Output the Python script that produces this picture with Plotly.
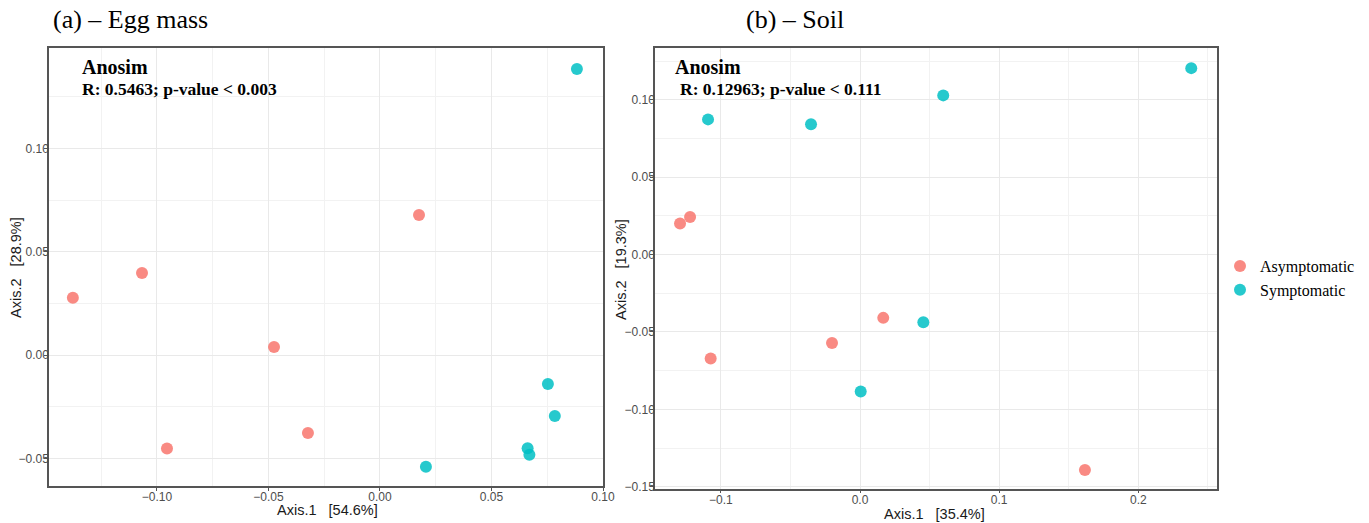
import plotly.graph_objects as go

W, H = 1369, 523

# Panel (a) – Egg mass
a_asym_x = [-0.1377, -0.1067, -0.0955, -0.0475, -0.0323, 0.0175]
a_asym_y = [0.0277, 0.0397, -0.0452, 0.0039, -0.0377, 0.0677]
a_sym_x = [0.0883, 0.0753, 0.0784, 0.0662, 0.0670, 0.0206]
a_sym_y = [0.1384, -0.0140, -0.0295, -0.0451, -0.0482, -0.0540]

# Panel (b) – Soil
b_asym_x = [-0.1293, -0.1221, -0.1073, -0.0201, 0.0167, 0.1616]
b_asym_y = [0.0200, 0.0243, -0.0671, -0.0572, -0.0409, -0.1392]
b_sym_x = [-0.1092, -0.0352, 0.0598, 0.0455, 0.0005, 0.2380]
b_sym_y = [0.0873, 0.0841, 0.1028, -0.0437, -0.0884, 0.1204]

groups = ["Asymptomatic", "Symptomatic"]
colors = ["#F8766D", "#00BFC4"]

titles = ["(a) – Egg mass", "(b) – Soil"]
anosim_stats = ["R: 0.5463; p-value < 0.003", "R: 0.12963; p-value < 0.111"]
x_titles = ["Axis.1\u00a0\u00a0\u00a0[54.6%]", "Axis.1\u00a0\u00a0\u00a0[35.4%]"]
y_titles = ["Axis.2\u00a0\u00a0\u00a0[28.9%]", "Axis.2\u00a0\u00a0\u00a0[19.3%]"]

fig = go.Figure()

def add_pts(x, y, name, color, xa, ya, show):
    fig.add_trace(go.Scatter(
        x=x, y=y, mode="markers", name=name, legendgroup=name, showlegend=show,
        marker=dict(size=12, color=color, opacity=0.85, line=dict(width=0)),
        xaxis=xa, yaxis=ya))

add_pts(a_asym_x, a_asym_y, groups[0], colors[0], "x", "y", True)
add_pts(a_sym_x, a_sym_y, groups[1], colors[1], "x", "y", True)
add_pts(b_asym_x, b_asym_y, groups[0], colors[0], "x2", "y2", False)
add_pts(b_sym_x, b_sym_y, groups[1], colors[1], "x2", "y2", False)

def px(v):
    return v / W

def py(v):
    return 1 - v / H

sans = "Liberation Sans, Arial, sans-serif"
serif = "Liberation Serif, Times New Roman, serif"
tickfont = dict(family=sans, size=12, color="#4d4d4d")
titlefont = dict(family=sans, size=14.5, color="#1a1a1a")

def axis(domain, rng, dtick, fmt, anchor, standoff):
    return dict(
        domain=domain, range=rng, dtick=dtick, tick0=0, tickformat=fmt,
        automargin=False,
        showgrid=True, gridcolor="#e9e9e9", gridwidth=1.2,
        minor=dict(showgrid=True, dtick=dtick / 2, tick0=0, gridcolor="#f2f2f2", gridwidth=1),
        zeroline=False, showline=True, mirror=True, linecolor="#555555", linewidth=1.5,
        ticks="outside", ticklen=3, tickcolor="#555555", tickwidth=1,
        ticklabelstandoff=standoff,
        tickfont=tickfont, anchor=anchor,
    )

layout = dict(
    width=W, height=H, paper_bgcolor="white", plot_bgcolor="white",
    margin=dict(l=0, r=0, t=0, b=0, autoexpand=False),
    showlegend=True,
    xaxis=axis([px(49), px(603)], [-0.1484, 0.1000], 0.05, ".2f", "y", -4),
    yaxis=axis([py(486), py(48)], [-0.0633, 0.1485], 0.05, ".2f", "x", -7),
    xaxis2=axis([px(655), px(1217)], [-0.1473, 0.2565], 0.1, ".1f", "y2", -4),
    yaxis2=axis([py(488.5), py(48)], [-0.1511, 0.1334], 0.05, ".2f", "x2", -7),
    legend=dict(
        x=px(1220), y=py(278), xanchor="left", yanchor="middle",
        font=dict(family=serif, size=16, color="#000000"),
        itemwidth=30, tracegroupgap=0, bgcolor="rgba(0,0,0,0)",
    ),
)
fig.update_layout(**layout)

anns = []
# Panel titles
anns.append(dict(text=titles[0], x=px(51), y=py(20), xref="paper", yref="paper",
                 xanchor="left", yanchor="middle", showarrow=False,
                 font=dict(family=serif, size=26, color="#000")))
anns.append(dict(text=titles[1], x=px(744), y=py(20), xref="paper", yref="paper",
                 xanchor="left", yanchor="middle", showarrow=False,
                 font=dict(family=serif, size=26, color="#000")))
# Anosim blocks
for xl, xr, stat, fs in [(80, 80, anosim_stats[0], 17.5), (673, 678, anosim_stats[1], 17.5)]:
    anns.append(dict(text="<b>Anosim</b>", x=px(xl), y=py(67), xref="paper", yref="paper",
                     xanchor="left", yanchor="middle", showarrow=False,
                     font=dict(family=serif, size=20, color="#000")))
    anns.append(dict(text="<b>" + stat.replace("<", "&lt;") + "</b>", x=px(xr), y=py(89),
                     xref="paper", yref="paper",
                     xanchor="left", yanchor="middle", showarrow=False,
                     font=dict(family=serif, size=fs, color="#000")))
# Axis titles
for xt, xc, yc in [(x_titles[0], 327, 510), (x_titles[1], 934, 514)]:
    anns.append(dict(text=xt, x=px(xc), y=py(yc), xref="paper", yref="paper",
                     xanchor="center", yanchor="middle", showarrow=False, font=titlefont))
for yt, xc, yc in [(y_titles[0], 16, 268), (y_titles[1], 621, 270)]:
    anns.append(dict(text=yt, x=px(xc), y=py(yc), xref="paper", yref="paper",
                     xanchor="center", yanchor="middle", showarrow=False, textangle=-90,
                     font=titlefont))
fig.update_layout(annotations=anns)

fig.write_html(
    "out.html",
    config={"displayModeBar": False},
    post_script="document.body.style.margin='0';document.body.style.padding='0';"
                "document.body.style.overflow='hidden';",
)
